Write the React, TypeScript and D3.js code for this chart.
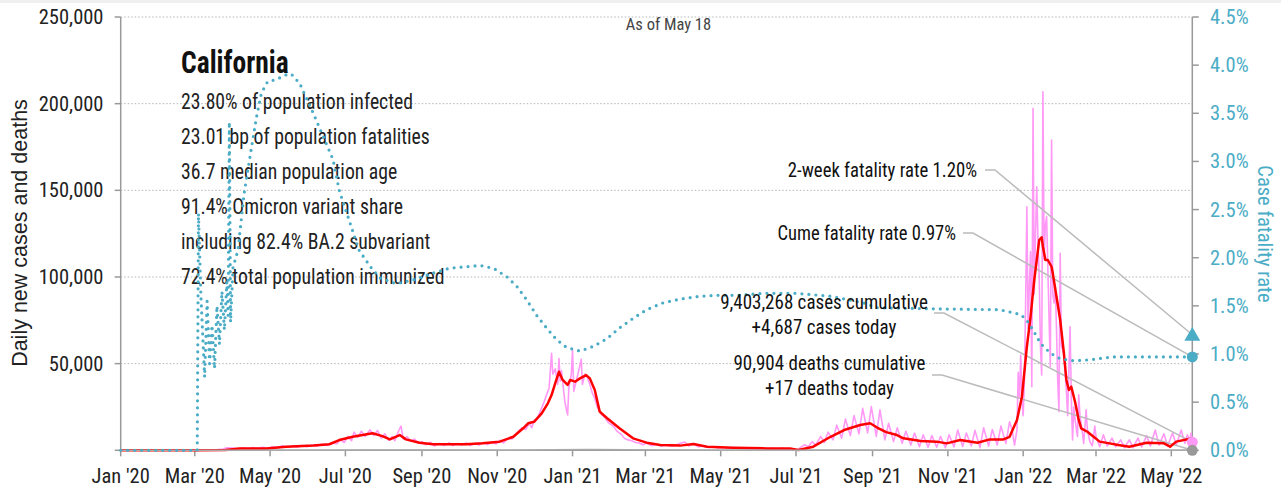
import React from "react";
import * as d3 from "d3";

// ---------- DATA ----------
const tickMonths: string[] = [
  "2020-01-01","2020-03-01","2020-05-01","2020-07-01","2020-09-01","2020-11-01",
  "2021-01-01","2021-03-01","2021-05-01","2021-07-01","2021-09-01","2021-11-01",
  "2022-01-01","2022-03-01","2022-05-01",
];
const leftTicks: number[] = [0, 50000, 100000, 150000, 200000, 250000];
const rightTicks: number[] = [0, 0.5, 1, 1.5, 2, 2.5, 3, 3.5, 4, 4.5];

const statLines: string[] = [
  "23.80% of population infected",
  "23.01 bp of population fatalities",
  "36.7 median population age",
  "91.4% Omicron variant share",
  "including 82.4% BA.2 subvariant",
  "72.4% total population immunized",
];

// daily new cases (pink)
const dailyCases: [string, number][] = [
  ["2020-01-01",0],["2020-02-28",0],["2020-03-05",20],["2020-03-12",100],["2020-03-18",300],["2020-03-24",700],
  ["2020-03-27",1400],["2020-04-01",1300],["2020-04-05",800],["2020-04-09",1500],["2020-04-13",900],["2020-04-17",1600],
  ["2020-04-21",1100],["2020-04-25",1800],["2020-04-29",1200],["2020-05-03",2000],["2020-05-07",1500],["2020-05-11",2600],
  ["2020-05-15",1700],["2020-05-19",2500],["2020-05-23",1800],["2020-05-27",2800],["2020-05-31",2000],["2020-06-04",3000],
  ["2020-06-08",2300],["2020-06-12",3500],["2020-06-16",2800],["2020-06-20",4200],["2020-06-24",3800],["2020-06-27",6000],
  ["2020-06-30",4500],["2020-07-03",8000],["2020-07-06",5500],["2020-07-08",10500],["2020-07-11",7500],["2020-07-14",11000],
  ["2020-07-17",8000],["2020-07-21",11800],["2020-07-24",8500],["2020-07-27",11500],["2020-07-30",7000],["2020-08-02",9500],
  ["2020-08-05",5800],["2020-08-08",8000],["2020-08-10",5500],["2020-08-13",11000],["2020-08-15",14000],["2020-08-17",6500],
  ["2020-08-20",7800],["2020-08-23",5200],["2020-08-26",6500],["2020-08-29",4200],["2020-09-01",5000],["2020-09-04",3200],
  ["2020-09-08",4600],["2020-09-11",2500],["2020-09-15",4000],["2020-09-19",2800],["2020-09-23",4300],["2020-09-26",2700],
  ["2020-09-30",4000],["2020-10-03",2900],["2020-10-07",4200],["2020-10-10",2800],["2020-10-14",4000],["2020-10-17",3000],
  ["2020-10-21",4400],["2020-10-24",3300],["2020-10-28",4600],["2020-10-31",3600],["2020-11-03",5800],["2020-11-06",4300],
  ["2020-11-10",7000],["2020-11-13",6500],["2020-11-16",9000],["2020-11-19",11500],["2020-11-21",13000],["2020-11-24",12000],
  ["2020-11-27",15500],["2020-11-29",13000],["2020-12-01",17500],["2020-12-03",18000],["2020-12-05",21000],["2020-12-07",24500],
  ["2020-12-09",28000],["2020-12-11",32000],["2020-12-13",36000],["2020-12-15",56000],["2020-12-16",44000],["2020-12-18",47000],
  ["2020-12-20",38000],["2020-12-21",53000],["2020-12-22",40000],["2020-12-23",46000],["2020-12-25",33000],["2020-12-26",27000],
  ["2020-12-28",20400],["2020-12-29",36000],["2020-12-31",44000],["2021-01-01",57900],["2021-01-02",34000],["2021-01-04",40000],
  ["2021-01-06",46000],["2021-01-08",52500],["2021-01-09",38000],["2021-01-11",44000],["2021-01-13",42000],["2021-01-15",38000],
  ["2021-01-17",33000],["2021-01-19",30000],["2021-01-21",25000],["2021-01-24",21000],["2021-01-27",19000],["2021-01-30",16000],
  ["2021-02-03",14000],["2021-02-06",11000],["2021-02-09",9500],["2021-02-12",7000],["2021-02-15",6000],["2021-02-18",5500],
  ["2021-02-21",4500],["2021-02-24",4200],["2021-02-27",3200],["2021-03-02",4200],["2021-03-06",2700],["2021-03-10",3500],
  ["2021-03-14",2400],["2021-03-18",3200],["2021-03-22",2300],["2021-03-26",3000],["2021-03-30",4200],["2021-04-02",4800],
  ["2021-04-05",2500],["2021-04-09",3500],["2021-04-13",2000],["2021-04-17",2500],["2021-04-21",1600],["2021-04-25",2000],
  ["2021-04-29",1300],["2021-05-03",1800],["2021-05-07",1200],["2021-05-11",1600],["2021-05-15",1000],["2021-05-19",1400],
  ["2021-05-23",900],["2021-05-27",1300],["2021-05-31",700],["2021-06-04",1300],["2021-06-08",800],["2021-06-12",1200],
  ["2021-06-16",700],["2021-06-20",1100],["2021-06-24",600],["2021-06-28",900],["2021-07-02",0],["2021-07-05",1800],
  ["2021-07-08",3200],["2021-07-11",2000],["2021-07-14",5000],["2021-07-17",3000],["2021-07-21",8000],["2021-07-24",4500],
  ["2021-07-27",10500],["2021-07-31",6000],["2021-08-03",14500],["2021-08-07",7000],["2021-08-10",18000],["2021-08-14",8500],
  ["2021-08-17",20000],["2021-08-21",9500],["2021-08-24",24200],["2021-08-28",10000],["2021-08-31",25200],["2021-09-04",8000],
  ["2021-09-07",23300],["2021-09-11",6000],["2021-09-14",15600],["2021-09-18",5000],["2021-09-21",13000],["2021-09-25",4000],
  ["2021-09-28",11000],["2021-10-02",3000],["2021-10-05",10000],["2021-10-09",2000],["2021-10-12",9000],["2021-10-16",1800],
  ["2021-10-19",8500],["2021-10-23",1800],["2021-10-26",8000],["2021-10-30",1500],["2021-11-02",9000],["2021-11-06",2000],
  ["2021-11-09",11700],["2021-11-13",2200],["2021-11-16",10000],["2021-11-20",2500],["2021-11-23",11500],["2021-11-27",1500],
  ["2021-11-30",13000],["2021-12-04",2500],["2021-12-07",12000],["2021-12-11",3000],["2021-12-14",14000],["2021-12-18",4000],
  ["2021-12-21",16500],["2021-12-23",12000],["2021-12-25",3000],["2021-12-27",12000],["2021-12-28",45000],["2021-12-29",30000],
  ["2021-12-30",55000],["2021-12-31",28000],["2022-01-01",20000],["2022-01-02",40000],["2022-01-03",85000],["2022-01-04",140500],
  ["2022-01-05",70000],["2022-01-06",95000],["2022-01-07",114600],["2022-01-08",36700],["2022-01-09",197300],["2022-01-10",90000],
  ["2022-01-11",125000],["2022-01-12",152100],["2022-01-13",120000],["2022-01-14",100000],["2022-01-15",60000],["2022-01-16",43400],
  ["2022-01-17",206900],["2022-01-18",110000],["2022-01-19",130000],["2022-01-20",134800],["2022-01-21",105000],["2022-01-22",75000],
  ["2022-01-23",48200],["2022-01-24",179000],["2022-01-25",90000],["2022-01-26",85000],["2022-01-27",95000],["2022-01-28",70000],
  ["2022-01-29",40000],["2022-01-30",22300],["2022-01-31",113700],["2022-02-01",60000],["2022-02-02",58000],["2022-02-03",55000],
  ["2022-02-04",45000],["2022-02-05",34800],["2022-02-06",20000],["2022-02-07",45000],["2022-02-08",71300],["2022-02-09",30000],
  ["2022-02-10",5900],["2022-02-11",25000],["2022-02-12",18000],["2022-02-14",8000],["2022-02-15",32000],["2022-02-16",20000],
  ["2022-02-18",10000],["2022-02-19",4000],["2022-02-21",23300],["2022-02-22",12000],["2022-02-24",5000],["2022-02-26",2500],
  ["2022-02-28",14000],["2022-03-01",8000],["2022-03-04",2000],["2022-03-07",9000],["2022-03-10",2500],["2022-03-14",7000],
  ["2022-03-17",2000],["2022-03-21",6000],["2022-03-24",1500],["2022-03-28",6000],["2022-03-31",1500],["2022-04-04",7000],
  ["2022-04-07",2000],["2022-04-11",8500],["2022-04-14",2500],["2022-04-18",11700],["2022-04-21",3000],["2022-04-25",9500],
  ["2022-04-28",2500],["2022-05-02",10000],["2022-05-05",3000],["2022-05-09",11700],["2022-05-12",4000],["2022-05-14",9000],
  ["2022-05-16",5500],["2022-05-17",10000],["2022-05-18",4687],
];

// 7-day average of new cases (red)
const avgCases: [string, number][] = [
  ["2020-01-01",0],["2020-03-02",0],["2020-03-26",200],["2020-04-06",1100],["2020-04-28",1100],["2020-05-14",2100],
  ["2020-06-05",2700],["2020-06-18",3500],["2020-06-26",5900],["2020-07-07",7800],["2020-07-23",9800],["2020-07-31",8200],
  ["2020-08-06",6300],["2020-08-14",8800],["2020-08-19",6300],["2020-08-30",4400],["2020-09-10",3500],["2020-10-07",3500],
  ["2020-10-20",4000],["2020-11-03",5000],["2020-11-14",7800],["2020-11-22",12700],["2020-11-26",15600],["2020-12-01",16500],
  ["2020-12-07",21300],["2020-12-12",27100],["2020-12-15",31900],["2020-12-18",38700],["2020-12-21",45300],["2020-12-24",40600],
  ["2020-12-28",37700],["2020-12-30",40600],["2021-01-03",39600],["2021-01-07",41500],["2021-01-12",43400],["2021-01-15",41500],
  ["2021-01-19",34800],["2021-01-23",22300],["2021-01-29",18500],["2021-02-08",12700],["2021-02-19",6900],["2021-03-02",4400],
  ["2021-03-13",3000],["2021-03-29",2700],["2021-04-09",3600],["2021-04-20",2100],["2021-05-11",1500],["2021-06-07",1100],
  ["2021-06-26",1100],["2021-07-03",170],["2021-07-15",2100],["2021-07-29",7800],["2021-08-09",11700],["2021-08-22",14600],
  ["2021-08-30",15600],["2021-09-05",13000],["2021-09-12",10500],["2021-09-20",9000],["2021-09-26",6900],["2021-10-10",5400],
  ["2021-10-23",5000],["2021-10-31",4000],["2021-11-11",5900],["2021-11-25",4400],["2021-12-05",6300],["2021-12-16",6300],
  ["2021-12-21",7800],["2021-12-27",17500],["2021-12-31",30900],["2022-01-04",59800],["2022-01-07",77100],["2022-01-10",98300],
  ["2022-01-12",109800],["2022-01-14",121300],["2022-01-16",122900],["2022-01-17",117500],["2022-01-19",109800],["2022-01-21",109800],
  ["2022-01-24",105900],["2022-01-25",102100],["2022-01-28",88600],["2022-01-31",75200],["2022-02-03",56000],["2022-02-05",40600],
  ["2022-02-07",34800],["2022-02-09",36700],["2022-02-12",28000],["2022-02-15",17500],["2022-02-17",12700],["2022-02-22",10700],
  ["2022-02-27",7800],["2022-03-04",5000],["2022-03-12",4000],["2022-03-19",3000],["2022-03-28",2100],["2022-04-11",4400],
  ["2022-04-25",4000],["2022-04-30",2100],["2022-05-05",5000],["2022-05-18",6900],
];

// daily deaths (grey)
const dailyDeaths: [string, number][] = [
  ["2020-01-01",0],["2020-03-15",20],["2020-04-15",90],["2020-06-01",70],["2020-07-25",130],["2020-09-01",110],
  ["2020-11-01",50],["2020-12-15",250],["2021-01-15",500],["2021-02-15",350],["2021-03-15",120],["2021-05-01",30],
  ["2021-07-01",20],["2021-09-01",100],["2021-11-01",50],["2022-01-01",60],["2022-02-10",180],["2022-03-15",70],
  ["2022-05-18",17],
];

// case fatality rate, % (teal dotted)
const cfr: [string, number][] = [
  ["2020-01-01",0],["2020-03-03",0],["2020-03-04",2.46],["2020-03-06",1.6],["2020-03-09",0.76],["2020-03-11",1.55],
  ["2020-03-13",0.9],["2020-03-15",1.3],["2020-03-17",0.85],["2020-03-19",1.5],["2020-03-21",1.1],["2020-03-23",1.65],
  ["2020-03-25",1.25],["2020-03-27",1.75],["2020-03-28",1.4],["2020-03-29",3.41],["2020-03-30",1.33],["2020-04-01",1.9],
  ["2020-04-05",2.08],["2020-04-10",2.67],["2020-04-16",3.15],["2020-04-20",3.46],["2020-04-24",3.71],["2020-04-29",3.83],
  ["2020-05-06",3.85],["2020-05-14",3.9],["2020-05-18",3.91],["2020-05-25",3.81],["2020-05-30",3.67],["2020-06-05",3.5],
  ["2020-06-13",3.26],["2020-06-21",3.02],["2020-06-26",2.7],["2020-07-04",2.39],["2020-07-12",2.08],["2020-07-21",1.91],
  ["2020-07-29",1.79],["2020-08-11",1.73],["2020-08-25",1.77],["2020-09-10",1.84],["2020-09-23",1.89],["2020-10-18",1.92],
  ["2020-10-29",1.89],["2020-11-09",1.8],["2020-11-17",1.7],["2020-11-25",1.56],["2020-12-03",1.4],["2020-12-11",1.27],
  ["2020-12-19",1.15],["2020-12-27",1.07],["2021-01-07",1.03],["2021-01-18",1.08],["2021-01-29",1.16],["2021-02-08",1.27],
  ["2021-02-19",1.37],["2021-03-02",1.46],["2021-03-15",1.53],["2021-03-29",1.57],["2021-04-14",1.6],["2021-04-30",1.61],
  ["2021-05-16",1.61],["2021-06-04",1.63],["2021-07-01",1.63],["2021-07-29",1.6],["2021-08-25",1.53],["2021-09-05",1.48],
  ["2021-10-15",1.47],["2021-12-13",1.46],["2021-12-30",1.41],["2022-01-04",1.35],["2022-01-09",1.25],["2022-01-15",1.11],
  ["2022-01-23",1.01],["2022-01-31",0.95],["2022-02-11",0.93],["2022-02-24",0.94],["2022-03-15",0.97],["2022-05-18",0.97],
];

const twoWeekCfr = 1.2;
const cumeCfr = 0.97;
const casesToday = 4687;
const deathsToday = 17;

// ---------- CHART ----------
const W = 1281;
const H = 491;
const TEAL = "#4bacc6";
const PINK = "#ff99f5";
const NARROW = "'Liberation Sans Narrow', 'Arial Narrow', 'Roboto Condensed', 'DejaVu Sans Condensed', sans-serif";

const parse = d3.timeParse("%Y-%m-%d");
type P = { d: Date; v: number };
const toPts = (a: [string, number][]): P[] => a.map(([s, v]) => ({ d: parse(s) as Date, v }));

function SqText(props: { x: number; y: number; sx: number; size: number; anchor?: string; weight?: string; fill?: string; children: React.ReactNode }) {
  const { x, y, sx, size, anchor, weight, fill, children } = props;
  return (
    <text
      transform={`translate(${x},${y}) scale(${sx},1)`}
      textAnchor={anchor || "start"}
      fontFamily={NARROW}
      fontSize={size}
      fontWeight={weight || "normal"}
      fill={fill || "#111"}
    >
      {children}
    </text>
  );
}

export default function App() {
  const x = d3.scaleTime().domain([parse("2020-01-01") as Date, parse("2022-05-18") as Date]).range([120.7, 1192.3]);
  const yL = d3.scaleLinear().domain([0, 250000]).range([450.3, 17]);
  const yR = d3.scaleLinear().domain([0, 4.5]).range([450.3, 17]);

  const lineL = d3.line<P>().x((p) => x(p.d)).y((p) => yL(p.v));
  const lineR = d3.line<P>().x((p) => x(p.d)).y((p) => yR(p.v));

  const xEnd = x.range()[1];
  const xStart = x.range()[0];
  const fmt = d3.format(",");
  const tri = d3.symbol().type(d3.symbolTriangle).size(110)();

  const leaders = [
    { x0: 985, y0: 170, x1: xEnd, y1: yR(twoWeekCfr) },
    { x0: 963, y0: 233, x1: xEnd, y1: yR(cumeCfr) },
    { x0: 934, y0: 313, x1: xEnd, y1: yL(casesToday) },
    { x0: 932, y0: 375, x1: xEnd, y1: yL(deathsToday) },
  ];

  return (
    <svg width={W} height={H} style={{ position: "absolute", left: 0, top: 0, background: "#fff" }}>
      <rect x={0} y={0} width={W} height={3} fill="#efefef" />
      {/* grid */}
      {leftTicks.filter((t) => t > 0).map((t) => (
        <line key={t} x1={xStart} x2={xEnd} y1={yL(t)} y2={yL(t)} stroke="#b5b5b5" strokeWidth={1} strokeDasharray="1.5 2" />
      ))}
      {/* axes */}
      <line x1={xStart} x2={xStart} y1={yL(250000)} y2={yL(0)} stroke="#999" strokeWidth={1.5} />
      <line x1={xEnd} x2={xEnd} y1={yR(4.5)} y2={yR(0)} stroke="#999" strokeWidth={1.5} />
      <line x1={xStart} x2={xEnd} y1={yL(0)} y2={yL(0)} stroke="#999" strokeWidth={1.5} />
      {leftTicks.map((t) => (
        <g key={"l" + t}>
          <line x1={xStart - 6} x2={xStart} y1={yL(t)} y2={yL(t)} stroke="#999" strokeWidth={1.5} />
          {t > 0 && (
            <text x={103.5} y={yL(t) + 7} textAnchor="end" fontFamily={NARROW} fontSize={20.5} fill="#222">{fmt(t)}</text>
          )}
        </g>
      ))}
      {rightTicks.map((t) => (
        <g key={"r" + t}>
          <line x1={xEnd} x2={xEnd + 6.5} y1={yR(t)} y2={yR(t)} stroke="#999" strokeWidth={1.5} />
          <text x={1210} y={yR(t) + 7} fontFamily={NARROW} fontSize={20.5} fill={TEAL}>{t.toFixed(1) + "%"}</text>
        </g>
      ))}
      {tickMonths.map((s) => {
        const d = parse(s) as Date;
        return (
          <g key={s}>
            <line x1={x(d)} x2={x(d)} y1={yL(0)} y2={yL(0) + 6} stroke="#999" strokeWidth={1.5} />
            <text x={x(d)} y={483} textAnchor="middle" fontFamily={NARROW} fontSize={20.5} fill="#222">
              {d3.timeFormat("%b '%y")(d)}
            </text>
          </g>
        );
      })}
      <text transform="translate(27,233) rotate(-90)" textAnchor="middle" fontFamily="'Liberation Sans', Arial, sans-serif" fontSize={21.5} fill="#222">
        Daily new cases and deaths
      </text>
      <text transform="translate(1258,234) rotate(90)" textAnchor="middle" fontFamily={NARROW} fontSize={20.5} fill={TEAL}>
        Case fatality rate
      </text>
      <text x={668.5} y={30} textAnchor="middle" fontFamily={NARROW} fontSize={16.5} fill="#444">As of May 18</text>

      {/* stats text */}
      <SqText x={181} y={72.7} sx={0.86} size={32} weight="bold">California</SqText>
      {statLines.map((s, i) => (
        <SqText key={s} x={181} y={109.3 + i * 34.9} sx={0.917} size={21.5} fill="#222">{s}</SqText>
      ))}

      {/* series */}
      <path d={lineL(toPts(dailyCases)) || ""} fill="none" stroke={PINK} strokeWidth={1.6} strokeLinejoin="round" />
      {leaders.map((l, i) => (
        <path key={i} d={`M${l.x0},${l.y0}L${l.x0 + 10},${l.y0}L${l.x1},${l.y1}`} fill="none" stroke="#bbb" strokeWidth={1.5} />
      ))}
      <path d={lineL(toPts(avgCases)) || ""} fill="none" stroke="#ff0000" strokeWidth={2.5} strokeLinejoin="round" />
      <path d={lineL(toPts(dailyDeaths)) || ""} fill="none" stroke="#aaa" strokeWidth={1.5} />
      <path d={lineR(toPts(cfr)) || ""} fill="none" stroke={TEAL} strokeWidth={3.2} strokeDasharray="0 7" strokeLinecap="round" strokeLinejoin="round" />

      {/* end markers */}
      <path d={tri || ""} transform={`translate(${xEnd},${yR(twoWeekCfr) + 1.5})`} fill={TEAL} />
      <circle cx={xEnd} cy={yR(cumeCfr)} r={5.5} fill={TEAL} />
      <circle cx={xEnd} cy={yL(casesToday)} r={5.5} fill={PINK} />
      <circle cx={xEnd} cy={yL(deathsToday)} r={5.5} fill="#999" />

      {/* annotations */}
      <SqText x={977} y={177} sx={0.935} size={20} anchor="end">2-week fatality rate 1.20%</SqText>
      <SqText x={956} y={240} sx={0.93} size={20} anchor="end">Cume fatality rate 0.97%</SqText>
      <SqText x={824} y={309} sx={0.95} size={20} anchor="middle">9,403,268 cases cumulative</SqText>
      <SqText x={824} y={334} sx={0.95} size={20} anchor="middle">+4,687 cases today</SqText>
      <SqText x={829.5} y={370} sx={0.95} size={20} anchor="middle">90,904 deaths cumulative</SqText>
      <SqText x={829.5} y={395} sx={0.95} size={20} anchor="middle">+17 deaths today</SqText>
    </svg>
  );
}
